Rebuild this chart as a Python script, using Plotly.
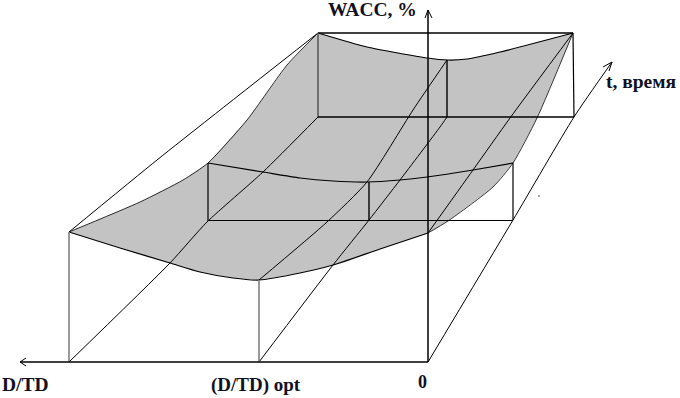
import plotly.graph_objects as go

# Curves (x, y in picture units)
front_x = [69, 120, 170, 200, 233, 259, 300, 333, 380, 428]
front_y = [232, 248, 263, 272, 278, 280, 273, 265, 249, 233]
middle_x = [208, 263, 300, 333, 367, 400, 427, 473, 513]
middle_y = [163, 172, 178, 181, 182, 180, 177, 170, 163]
back_x = [318, 367, 427, 448, 467, 500, 573]
back_y = [33, 47, 58, 60, 59, 52, 33]
left_x = [69, 140, 183, 208, 247, 287, 318]
left_y = [232, 202, 180, 163, 120, 65, 33]
right_x = [428, 448, 493, 513, 537, 573]
right_y = [233, 221, 187, 163, 118, 33]

outer_x = [69, 157, 210, 318]
outer_y = [232, 160, 118, 33]
floor1_x = [69, 170, 207, 263, 318]
floor1_y = [362, 263, 222, 172, 117]
floor2_x = [259, 333, 369, 400, 440, 447]
floor2_y = [362, 265, 220, 180, 127, 117]
surf_opt_x = [259, 327, 367, 413, 447]
surf_opt_y = [280, 222, 182, 110, 60]
surf_right_x = [428, 473, 510, 573]
surf_right_y = [233, 170, 118, 33]
t_axis_x = [428, 513, 574, 612]
t_axis_y = [362, 220, 117, 62]

fill_x = front_x + right_x[1:] + back_x[::-1][1:] + left_x[::-1][1:]
fill_y = front_y + right_y[1:] + back_y[::-1][1:] + left_y[::-1][1:]

box_lines = [
    ([318, 573], [33, 33], "black", 1.5),
    ([318, 318], [33, 117], "#555555", 1.5),
    ([573, 574], [33, 117], "black", 1.2),
    ([318, 574], [117, 117], "black", 1.5),
    ([447, 447], [60, 117], "black", 1.4),
    ([208, 208], [163, 221], "black", 1.2),
    ([513, 513], [163, 220], "black", 1.2),
    ([208, 513], [220.5, 220.5], "black", 1.2),
    ([369, 369], [182, 220], "black", 1.4),
    ([69, 69], [232, 362], "#777777", 1.5),
    ([259, 259], [280, 362], "#777777", 1.5),
    ([20, 428], [362, 362], "black", 1.3),
    ([428, 428], [10, 362], "black", 1.5),
    ([20, 26], [362, 358], "black", 1),
    ([20, 26], [362, 366], "black", 1),
    ([428, 425], [10, 18], "black", 1),
    ([428, 432], [10, 18], "black", 1),
    ([612, 603], [62, 67], "black", 1),
    ([612, 609], [62, 71], "black", 1),
]
curves = [
    (front_x, front_y, 1.2),
    (middle_x, middle_y, 1.2),
    (back_x, back_y, 1.2),
    (left_x, left_y, 0.8),
    (right_x, right_y, 0.8),
    (outer_x, outer_y, 1),
    (floor1_x, floor1_y, 1),
    (floor2_x, floor2_y, 1),
    (surf_opt_x, surf_opt_y, 1),
    (surf_right_x, surf_right_y, 1),
    (t_axis_x, t_axis_y, 1),
]
label_text = ["WACC, %", "D/TD", "(D/TD) opt", "0", "t, время"]
label_x = [326, 0, 209, 416, 604]
label_y = [9, 384, 385, 382, 81]
label_size = [19.5, 19.5, 19, 18, 19.5]

fig = go.Figure()
fig.add_trace(go.Scatter(x=fill_x, y=fill_y, mode="lines", fill="toself",
                         fillcolor="#c3c3c3", line=dict(width=0), hoverinfo="skip"))
for xs, ys, w in curves:
    fig.add_trace(go.Scatter(x=xs, y=ys, mode="lines",
                             line=dict(color="black", width=w, shape="spline", smoothing=0.6)))
for xs, ys, c, w in box_lines:
    fig.add_trace(go.Scatter(x=xs, y=ys, mode="lines", line=dict(color=c, width=w)))
fig.add_trace(go.Scatter(x=[539], y=[196], mode="markers",
                         marker=dict(color="#888888", size=2)))
for t, x, y, s in zip(label_text, label_x, label_y, label_size):
    fig.add_annotation(x=x, y=y, text=f"<b>{t}</b>", showarrow=False, xanchor="left",
                       yanchor="middle",
                       font=dict(family="Liberation Serif", size=s, color="#111122"))

fig.update_layout(
    width=680, height=398, margin=dict(l=0, r=0, t=0, b=0),
    paper_bgcolor="white", plot_bgcolor="white", showlegend=False,
    xaxis=dict(range=[0, 680], visible=False, fixedrange=True),
    yaxis=dict(range=[398, 0], visible=False, fixedrange=True),
)
fig.write_html("out.html", config={"displayModeBar": False},
               post_script="document.body.style.margin='0';document.body.style.overflow='hidden';")
